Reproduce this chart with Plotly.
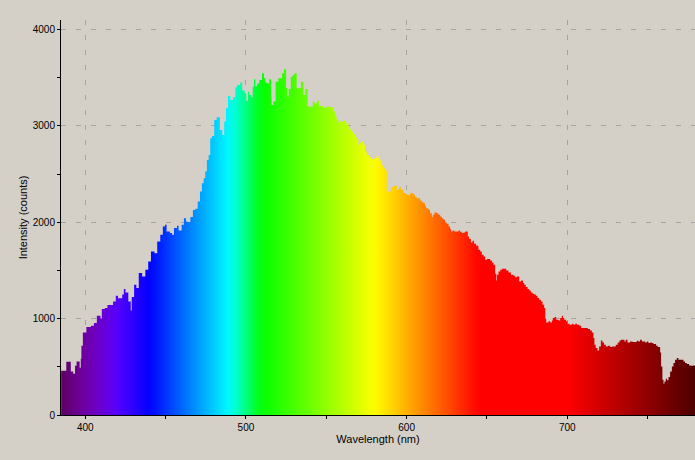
import plotly.graph_objects as go

# Spectrum (step starts in nm, intensity in counts)
wavelength_nm = [
    385.0, 388.2, 391.0, 392.5, 393.6, 394.6, 396.5, 397.2, 397.6, 398.5,
    400.7, 403.5, 405.4, 407.2, 409.5, 410.3, 412.2, 413.8, 417.3, 419.0,
    420.4, 423.0, 424.0, 425.0, 426.8, 428.3, 428.9, 430.4, 431.8, 433.3,
    435.4, 437.4, 439.2, 440.9, 443.1, 444.8, 446.7, 448.3,
    449.6, 450.6, 452.7, 454.0, 455.2, 457.1, 458.1, 460.0, 461.4, 462.7,
    463.7, 465.4, 467.0, 468.5, 470.0, 471.4, 472.6, 473.7, 474.7, 475.7,
    476.8, 477.8, 478.9, 480.3, 481.8, 483.8, 485.3, 486.5, 487.6, 488.8,
    490.3, 491.9, 493.4, 494.4, 496.5, 497.7, 499.2, 500.2, 501.3, 502.1,
    503.3, 504.2, 505.0, 505.8, 507.0, 508.3, 510.0, 511.2, 512.1, 513.3,
    514.5,
    515.6, 516.0, 517.1, 518.5, 520.2, 522.5, 523.7, 525.0, 525.8, 526.6,
    527.9, 529.1, 530.1, 531.6, 534.3, 535.8, 537.0, 538.4, 541.6, 542.6,
    544.3, 545.5, 548.2, 550.3, 552.4, 554.4, 555.7, 556.5, 557.5, 558.6,
    560.7, 562.3, 563.8, 564.8, 565.8, 566.9, 567.9, 569.0, 570.0, 571.0,
    572.1, 573.1, 574.1, 575.2, 576.6, 577.9, 579.3,
    580.4, 581.4, 582.5, 583.5, 584.6, 585.6, 586.6, 587.7, 590.2, 591.8,
    593.9, 595.3, 596.6, 598.0, 599.1, 600.1, 601.2, 602.2, 604.3, 605.3,
    606.3, 608.4, 609.5, 610.5, 611.5, 612.1, 613.6, 614.6, 615.7, 616.3,
    617.3, 618.8, 619.8, 620.9, 621.9, 622.9, 624.0, 625.0, 626.1, 627.1,
    627.7, 628.7, 629.8, 632.3, 633.3, 634.4, 635.4, 636.4, 638.1, 638.9,
    640.0, 641.0, 642.0, 643.3, 644.7,
    645.8, 646.8, 647.9, 648.9, 650.0, 652.0, 653.1, 654.1, 655.1, 655.8,
    656.2, 657.2, 658.3, 659.3, 662.0, 663.4, 664.9, 666.6, 667.6, 668.6,
    670.1, 671.3, 672.4, 673.2, 674.2, 675.3, 676.3, 677.3, 678.4, 679.4,
    680.5, 681.5, 682.5, 683.6, 684.6, 685.6, 686.3, 686.9, 688.3, 689.4,
    690.4, 691.0, 692.1, 693.1, 694.6, 695.6, 696.6, 697.3, 698.1, 699.3,
    700.2, 701.4, 702.9, 703.9, 705.0, 706.0, 707.6, 708.7,
    711.1, 712.8, 714.2, 715.3, 716.3, 716.9, 717.7, 718.8, 719.8, 720.9,
    721.9, 722.9, 724.0, 725.2, 726.7, 727.7, 730.2, 731.4, 732.5, 733.5,
    735.6, 736.4, 737.5, 739.1, 740.6, 743.3, 744.3, 745.3, 746.4, 748.5,
    749.5, 750.5, 751.6, 752.6, 753.6, 755.3, 756.3, 757.8, 758.4, 759.2,
    759.9, 760.5, 761.3, 762.1, 763.0, 764.0, 765.1, 766.1, 767.1, 768.2,
    769.2, 772.3, 773.3, 774.4, 775.8, 777.1, 778.5, 779.6,
]

intensity_counts = [
    460, 553, 452, 428, 511, 556, 490, 584, 719, 857,
    913, 926, 954, 1030, 1002, 1099, 1110, 1141, 1178, 1237,
    1213, 1250, 1307, 1272, 1178, 1085, 1224, 1351, 1317, 1473,
    1438, 1507, 1593, 1697, 1680, 1801, 1870, 1956,
    1974, 1905, 1888, 1870, 1940, 1964, 1916, 1974, 2043, 2009,
    2002, 2054, 2129, 2140, 2216, 2319, 2406, 2458, 2527, 2648,
    2700, 2873, 2897, 3063, 3091, 2959, 2907, 3046, 3184, 3312,
    3270, 3298, 3402, 3426, 3450, 3367, 3340, 3263, 3356, 3322,
    3298, 3408, 3485, 3415, 3440, 3478, 3547, 3495, 3450, 3440,
    3485,
    3305, 3219, 3253, 3460, 3495, 3547, 3589, 3392, 3305, 3385,
    3512, 3530, 3547, 3392, 3460, 3322, 3385, 3201, 3253, 3236,
    3263, 3208, 3191, 3201, 3194, 3149, 3097, 3063, 3035, 3046,
    3056, 3028, 2994, 2966, 2942, 2918, 2883, 2856, 2804, 2822,
    2839, 2804, 2734, 2700, 2676, 2655, 2665,
    2666, 2690, 2666, 2642, 2596, 2562, 2538, 2319, 2365, 2379,
    2337, 2365, 2337, 2303, 2296, 2286, 2279, 2303, 2286, 2262,
    2251, 2227, 2210, 2199, 2172, 2147, 2130, 2095, 2054, 2078,
    2102, 2095, 2078, 2061, 2043, 2026, 1998, 1985, 1956, 1930,
    1905, 1916, 1905, 1916, 1902, 1888, 1895, 1905, 1853, 1826,
    1791, 1808, 1777, 1757, 1715,
    1697, 1663, 1646, 1611, 1618, 1604, 1583, 1559, 1466, 1396,
    1456, 1490, 1507, 1518, 1500, 1480, 1456, 1445, 1431, 1438,
    1386, 1396, 1369, 1352, 1328, 1307, 1293, 1272, 1259, 1252,
    1238, 1214, 1197, 1179, 1145, 1110, 996, 961, 972, 961,
    982, 1006, 1016, 989, 982, 1006, 1030, 1006, 989, 972,
    948, 937, 948, 937, 948, 937, 927, 902,
    902, 892, 878, 857, 798, 729, 695, 670, 712, 774,
    753, 729, 712, 719, 705, 712, 729, 753, 774, 781,
    764, 781, 753, 764, 757, 771, 764, 781, 764, 753,
    764, 747, 753, 747, 736, 719, 705, 650, 504, 366,
    325, 349, 377, 360, 394, 452, 504, 539, 574, 591,
    574, 556, 539, 529, 515, 511, 515, 515,
]

x_tick_values = [400, 500, 600, 700]
y_tick_values = [0, 1000, 2000, 3000, 4000]

X_MIN, X_MAX = 384.9, 779.5
Y_MIN, Y_MAX = 0, 4100


def wl_to_rgb(w):
    # visible-spectrum colour used for the fill (styling only)
    if w < 440:
        r, g, b = (440 - w) / 60.0, 0.0, 1.0
    elif w < 490:
        r, g, b = 0.0, (w - 440) / 50.0, 1.0
    elif w < 510:
        r, g, b = 0.0, 1.0, (510 - w) / 20.0
    elif w < 580:
        r, g, b = (w - 510) / 70.0, 1.0, 0.0
    elif w < 645:
        r, g, b = 1.0, (645 - w) / 65.0, 0.0
    else:
        r, g, b = 1.0, 0.0, 0.0
    if w < 420:
        f = 0.3 + 0.7 * (w - 380) / 40.0
    elif w > 700:
        f = 0.3 + 0.7 * (780 - w) / 80.0
    else:
        f = 1.0
    return "rgb(%d,%d,%d)" % (round(255 * r * f), round(255 * g * f), round(255 * b * f))


stops = []
n = 80
for i in range(n + 1):
    t = i / n
    w = X_MIN + t * (X_MAX - X_MIN)
    stops.append([t, wl_to_rgb(w)])

fig = go.Figure()
fig.add_trace(go.Scatter(
    x=wavelength_nm,
    y=intensity_counts,
    mode="lines",
    line=dict(width=0, shape="hv", color="rgba(0,0,0,0)"),
    fill="tozeroy",
    fillgradient=dict(type="horizontal", colorscale=stops, start=X_MIN, stop=X_MAX),
    hoverinfo="skip",
    showlegend=False,
))

BG = "#d4d0c8"
GRID = "#a4a4a4"
FONT = dict(family="Liberation Sans, Arial, sans-serif", size=10, color="black")
TITLE_FONT = dict(family="Liberation Sans, Arial, sans-serif", size=11, color="black")

fig.update_layout(
    width=695, height=460,
    margin=dict(l=61, r=0, t=20, b=45),
    paper_bgcolor=BG, plot_bgcolor=BG,
    font=FONT,
    showlegend=False,
    xaxis=dict(
        range=[X_MIN, X_MAX],
        tickvals=x_tick_values,
        ticks="outside", ticklen=3, tickcolor="black",
        showline=True, linecolor="black", linewidth=1,
        showgrid=True, gridcolor=GRID, griddash="5px,10px", gridwidth=1,
        zeroline=False,
        minor=dict(dtick=50, tick0=0, ticks="outside", ticklen=3, tickcolor="black", showgrid=False),
        title=dict(text="Wavelength (nm)", standoff=2, font=TITLE_FONT),
        tickfont=FONT,
    ),
    yaxis=dict(
        range=[Y_MIN, Y_MAX],
        tickvals=y_tick_values,
        ticks="outside", ticklen=3, tickcolor="black",
        showline=True, linecolor="black", linewidth=1,
        showgrid=True, gridcolor=GRID, griddash="5px,10px", gridwidth=1,
        zeroline=False,
        minor=dict(dtick=500, tick0=0, ticks="outside", ticklen=3, tickcolor="black", showgrid=False),
        title=dict(text="Intensity (counts)", standoff=2, font=TITLE_FONT),
        tickfont=FONT,
    ),
)

fig.write_html(
    "out.html",
    config={"displayModeBar": False},
    post_script=(
        "document.body.style.margin='0';"
        "document.body.style.overflow='hidden';"
        "document.body.style.background='#d4d0c8';"
    ),
)
